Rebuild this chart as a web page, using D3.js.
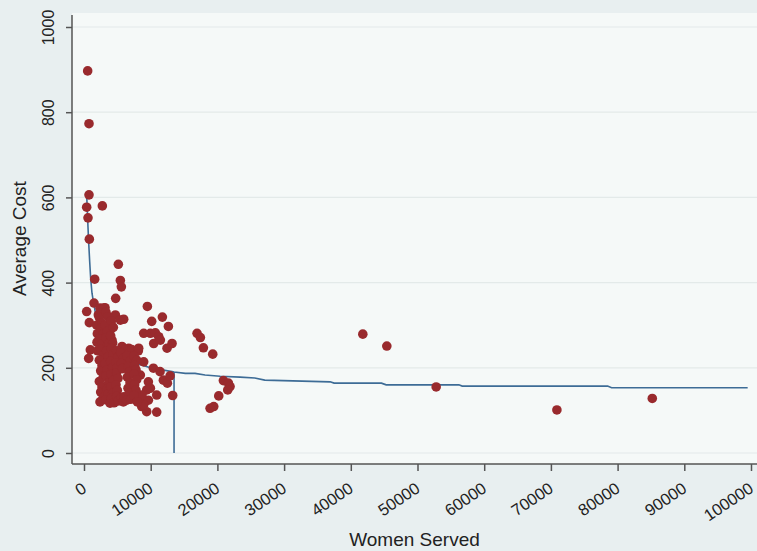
<!DOCTYPE html>
<html>
<head>
<meta charset="utf-8">
<script src="https://cdn.jsdelivr.net/npm/d3@7"></script>
<style>
  body { margin: 0; background: #e8eff0; }
  svg text { font-family: "Liberation Sans", Arial, sans-serif; fill: #222; }
</style>
</head>
<body>
<div id="chart"></div>
<script>
// tick values
var xTicks = [0, 10000, 20000, 30000, 40000, 50000, 60000, 70000, 80000, 90000, 100000];
var yTicks = [0, 200, 400, 600, 800, 1000];

// [women served, average cost]
var sparsePts = [
  [550, 897], [750, 773], [750, 606], [400, 577], [2750, 580], [600, 552], [800, 502],
  [5150, 443], [1600, 408], [5450, 405], [5600, 390], [4750, 363], [400, 332], [800, 306],
  [1500, 352], [950, 242], [700, 222], [2400, 340], [3150, 341], [2150, 324], [2950, 340],
  [2450, 328], [4700, 324], [5450, 312], [5950, 314], [3200, 281], [3950, 289], [4200, 265],
  [5700, 250], [6700, 246], [6150, 242], [7150, 243], [8150, 240]
];

var midPts = [
  [9500, 344], [10150, 309], [11750, 319], [12650, 297], [8950, 281], [9950, 281],
  [10700, 282], [11200, 273], [10450, 257], [11450, 265], [12450, 246], [13200, 257],
  [8200, 246], [10400, 199], [11400, 191], [11900, 171], [12500, 164], [12900, 181],
  [13300, 135], [10900, 136], [10900, 96], [9650, 167], [9400, 148], [8650, 124],
  [9650, 124], [8650, 109], [9400, 97], [7650, 128], [8950, 214], [8450, 183],
  [9950, 152], [8700, 136], [8950, 113]
];

var rightPts = [
  [16950, 281], [17450, 271], [17900, 247], [19300, 232], [20900, 170], [21650, 164],
  [21900, 156], [21550, 148], [20200, 134], [18900, 105], [19450, 109],
  [41800, 279], [45400, 251], [52800, 155], [70900, 101], [85200, 128]
];

var clusterPts = [
  [1900, 300], [2000, 280], [1950, 260], [2050, 240],
  [2300, 318], [2700, 305], [2500, 292], [2900, 280], [2300, 268], [2700, 255], [2500, 243],
  [2900, 230], [2300, 218], [2700, 205], [2500, 193], [2900, 180], [2300, 168], [2700, 155],
  [2500, 143], [2900, 130], [2400, 120],
  [3300, 330], [3600, 320], [3200, 300], [3500, 285], [3300, 270], [3700, 258], [3400, 240],
  [3600, 225], [3200, 210], [3500, 195], [3300, 180], [3700, 165], [3400, 150], [3600, 138],
  [3300, 125], [3900, 117],
  [4100, 310], [4400, 295], [4000, 275], [4300, 258], [4100, 245], [4400, 232], [4000, 215],
  [4300, 200], [4100, 185], [4400, 170], [4000, 155], [4300, 140], [4100, 128], [4500, 118],
  [4900, 240], [5100, 225], [4800, 212], [5000, 200], [4900, 188], [5100, 175], [4800, 160],
  [5000, 147], [4900, 133], [5100, 122],
  [5500, 235], [5900, 222], [5600, 210], [5800, 198], [5600, 130], [5900, 120], [6000, 132],
  [6500, 228], [6900, 215], [6600, 203], [6800, 190], [6500, 178], [6900, 165], [6600, 152],
  [6800, 140], [6400, 124], [7000, 126],
  [7500, 228], [7900, 218], [7600, 205], [7800, 195], [7500, 185], [7900, 172], [7600, 160],
  [7800, 147], [7500, 135], [8000, 120]
];

// fitted curve (steps included)
var fitLine = [
  [400, 606], [500, 570], [600, 530], [700, 495], [850, 450], [1000, 410], [1200, 375],
  [1400, 356], [1700, 330], [2000, 310], [2500, 288], [3000, 270], [3500, 257], [4000, 246],
  [5000, 233], [6000, 223], [7000, 215], [7900, 210], [9950, 200], [13200, 191], [13500, 190],
  [15200, 187], [16650, 187], [18150, 183], [20400, 180], [23400, 178], [25600, 176],
  [27100, 171], [36900, 167], [37500, 164], [44600, 164], [45300, 160], [56200, 160],
  [56700, 157], [78500, 157], [79100, 153], [99500, 153]
];
var dropLine = [[13500, 190], [13500, 0]];

var W = 757, H = 551;
var plot = { left: 72, top: 13, right: 757, bottom: 464 };

var svg = d3.select('#chart').append('svg')
  .attr('width', W)
  .attr('height', H);

svg.append('rect').attr('width', W).attr('height', H).attr('fill', '#e8eff0');
svg.append('rect')
  .attr('x', plot.left).attr('y', plot.top)
  .attr('width', plot.right - plot.left).attr('height', plot.bottom - plot.top)
  .attr('fill', '#f5f9f8');

var x = d3.scaleLinear().domain([0, 100000]).range([84, 751]);
var y = d3.scaleLinear().domain([0, 1000]).range([453, 27]);

// grid lines
svg.append('g').selectAll('line')
  .data(yTicks)
  .join('line')
  .attr('x1', plot.left).attr('x2', plot.right)
  .attr('y1', d => y(d)).attr('y2', d => y(d))
  .attr('stroke', '#e3eae9')
  .attr('stroke-width', 1.2);

// fitted line + drop segment
var line = d3.line().x(d => x(d[0])).y(d => y(d[1]));
svg.append('path')
  .attr('d', line(fitLine))
  .attr('fill', 'none')
  .attr('stroke', '#3d6c96')
  .attr('stroke-width', 1.6);
svg.append('path')
  .attr('d', line(dropLine))
  .attr('fill', 'none')
  .attr('stroke', '#3d6c96')
  .attr('stroke-width', 1.6);

// points
var allPts = sparsePts.concat(midPts, rightPts, clusterPts);
svg.append('g').selectAll('circle')
  .data(allPts)
  .join('circle')
  .attr('cx', d => x(d[0]))
  .attr('cy', d => y(d[1]))
  .attr('r', 4.8)
  .attr('fill', '#992a2d');

// y axis
var yAxis = svg.append('g')
  .attr('transform', `translate(${plot.left},0)`)
  .call(d3.axisLeft(y).tickValues(yTicks).tickSize(6).tickSizeOuter(0).tickFormat(d3.format('d')));
yAxis.select('.domain').remove();
yAxis.selectAll('.tick line').attr('stroke', '#555').attr('stroke-width', 1.5);
yAxis.selectAll('.tick text')
  .attr('x', 0).attr('dy', 0)
  .attr('text-anchor', 'middle')
  .attr('transform', 'translate(-18,0) rotate(-90)')
  .style('font-size', '16px');

// x axis
var xAxis = svg.append('g')
  .attr('transform', `translate(0,${plot.bottom})`)
  .call(d3.axisBottom(x).tickValues(xTicks).tickSize(7).tickSizeOuter(0).tickFormat(d3.format('d')));
xAxis.select('.domain').remove();
xAxis.selectAll('.tick line').attr('stroke', '#555').attr('stroke-width', 1.5);
xAxis.selectAll('.tick text')
  .attr('y', 0).attr('dy', 0)
  .attr('text-anchor', 'end')
  .attr('transform', 'translate(3,27) rotate(-34)')
  .style('font-size', '16.5px');

// axis lines
svg.append('line')
  .attr('x1', plot.left).attr('x2', plot.left)
  .attr('y1', plot.top + 2).attr('y2', plot.bottom)
  .attr('stroke', '#555').attr('stroke-width', 1.5);
svg.append('line')
  .attr('x1', plot.left).attr('x2', plot.right)
  .attr('y1', plot.bottom).attr('y2', plot.bottom)
  .attr('stroke', '#555').attr('stroke-width', 1.5);

// titles
svg.append('text')
  .attr('x', (plot.left + plot.right) / 2)
  .attr('y', 546)
  .attr('text-anchor', 'middle')
  .style('font-size', '19px')
  .text('Women Served');

svg.append('text')
  .attr('transform', `translate(26,${(plot.top + plot.bottom) / 2}) rotate(-90)`)
  .attr('text-anchor', 'middle')
  .style('font-size', '19px')
  .text('Average Cost');
</script>
</body>
</html>
